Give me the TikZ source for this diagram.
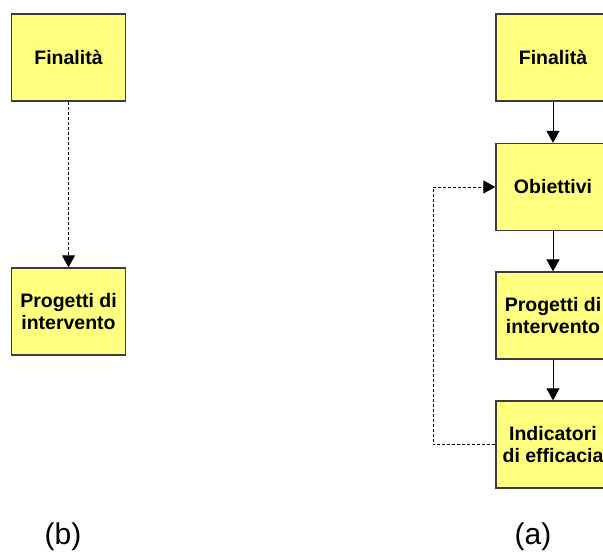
\documentclass[tikz,border=0pt]{standalone}
\usepackage{fontspec}
\setmainfont{Liberation Sans}
\usetikzlibrary{arrows.meta}
\definecolor{boxyellow}{RGB}{255,255,128}
\definecolor{boxline}{RGB}{60,60,60}
\begin{document}
\begin{tikzpicture}[x=1pt,y=-1pt,
	box/.style={draw=boxline,line width=1.3pt,fill=boxyellow,minimum width=114pt,minimum height=87pt,inner sep=0pt,align=center,font=\fontsize{19.5}{22}\selectfont\bfseries},
	link/.style={line width=0.9pt,-{Triangle[width=13pt,length=12pt]}},
	dashlink/.style={link,dash pattern=on 3pt off 2pt},
	tag/.style={font=\fontsize{30}{34}\selectfont}]
	\useasboundingbox (0,0) rectangle (603,554);
	\clip (0,0) rectangle (603,554);
	% (b)
	\node[box] (finB) at (68.5,57.5) {Finalit\`a};
	\node[box] (proB) at (68.5,311.5) {Progetti di\\intervento};
	\draw[dashlink] (finB) -- (proB);
	\node[tag] (labB) at (63,537) {(b)};
	% (a)
	\node[box] (finA) at (553,57.5) {Finalit\`a};
	\node[box] (obiA) at (553,187) {Obiettivi};
	\node[box] (proA) at (553,315.5) {Progetti di\\intervento};
	\node[box] (indA) at (553,444.5) {Indicatori\\di efficacia};
	\draw[link] (finA) -- (obiA);
	\draw[link] (obiA) -- (proA);
	\draw[link] (proA) -- (indA);
	\coordinate (loop) at (433,444.5);
	\draw[dashlink] (indA.west) -- (loop) |- (obiA.west);
	\node[tag] (labA) at (533,537) {(a)};
\end{tikzpicture}
\end{document}
